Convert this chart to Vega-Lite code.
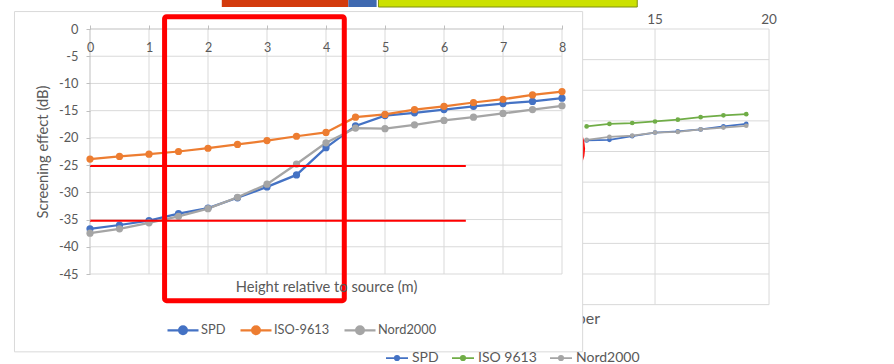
{
  "$schema": "https://vega.github.io/schema/vega-lite/v6.json",
  "width": 472,
  "height": 245,
  "autosize": {"type": "none"},
  "padding": {"left": 90, "top": 29, "right": 332, "bottom": 90},
  "background": "white",
  "config": {
    "font": "Lato",
    "view": {"stroke": null}
  },
  "datasets": {
    "main": [
      {"x": 0, "series": "SPD", "v": -36.7}, {"x": 0, "series": "ISO-9613", "v": -23.9}, {"x": 0, "series": "Nord2000", "v": -37.5},
      {"x": 0.5, "series": "SPD", "v": -36.0}, {"x": 0.5, "series": "ISO-9613", "v": -23.4}, {"x": 0.5, "series": "Nord2000", "v": -36.7},
      {"x": 1, "series": "SPD", "v": -35.2}, {"x": 1, "series": "ISO-9613", "v": -23.0}, {"x": 1, "series": "Nord2000", "v": -35.6},
      {"x": 1.5, "series": "SPD", "v": -33.9}, {"x": 1.5, "series": "ISO-9613", "v": -22.5}, {"x": 1.5, "series": "Nord2000", "v": -34.4},
      {"x": 2, "series": "SPD", "v": -32.9}, {"x": 2, "series": "ISO-9613", "v": -21.9}, {"x": 2, "series": "Nord2000", "v": -33.0},
      {"x": 2.5, "series": "SPD", "v": -31.0}, {"x": 2.5, "series": "ISO-9613", "v": -21.2}, {"x": 2.5, "series": "Nord2000", "v": -30.9},
      {"x": 3, "series": "SPD", "v": -29.0}, {"x": 3, "series": "ISO-9613", "v": -20.5}, {"x": 3, "series": "Nord2000", "v": -28.5},
      {"x": 3.5, "series": "SPD", "v": -26.8}, {"x": 3.5, "series": "ISO-9613", "v": -19.7}, {"x": 3.5, "series": "Nord2000", "v": -24.8},
      {"x": 4, "series": "SPD", "v": -21.8}, {"x": 4, "series": "ISO-9613", "v": -19.0}, {"x": 4, "series": "Nord2000", "v": -20.9},
      {"x": 4.5, "series": "SPD", "v": -17.8}, {"x": 4.5, "series": "ISO-9613", "v": -16.2}, {"x": 4.5, "series": "Nord2000", "v": -18.2},
      {"x": 5, "series": "SPD", "v": -15.9}, {"x": 5, "series": "ISO-9613", "v": -15.7}, {"x": 5, "series": "Nord2000", "v": -18.3},
      {"x": 5.5, "series": "SPD", "v": -15.4}, {"x": 5.5, "series": "ISO-9613", "v": -14.8}, {"x": 5.5, "series": "Nord2000", "v": -17.6},
      {"x": 6, "series": "SPD", "v": -14.8}, {"x": 6, "series": "ISO-9613", "v": -14.2}, {"x": 6, "series": "Nord2000", "v": -16.8},
      {"x": 6.5, "series": "SPD", "v": -14.2}, {"x": 6.5, "series": "ISO-9613", "v": -13.5}, {"x": 6.5, "series": "Nord2000", "v": -16.2},
      {"x": 7, "series": "SPD", "v": -13.7}, {"x": 7, "series": "ISO-9613", "v": -12.9}, {"x": 7, "series": "Nord2000", "v": -15.5},
      {"x": 7.5, "series": "SPD", "v": -13.3}, {"x": 7.5, "series": "ISO-9613", "v": -12.1}, {"x": 7.5, "series": "Nord2000", "v": -14.8},
      {"x": 8, "series": "SPD", "v": -12.7}, {"x": 8, "series": "ISO-9613", "v": -11.5}, {"x": 8, "series": "Nord2000", "v": -14.1}
    ],
    "receivers": [
      {"n": 12, "series": "SPD", "v": -18.2}, {"n": 12, "series": "ISO 9613", "v": -15.9}, {"n": 12, "series": "Nord2000", "v": -18.1},
      {"n": 13, "series": "SPD", "v": -18.1}, {"n": 13, "series": "ISO 9613", "v": -15.5}, {"n": 13, "series": "Nord2000", "v": -17.6},
      {"n": 14, "series": "SPD", "v": -17.5}, {"n": 14, "series": "ISO 9613", "v": -15.35}, {"n": 14, "series": "Nord2000", "v": -17.4},
      {"n": 15, "series": "SPD", "v": -16.9}, {"n": 15, "series": "ISO 9613", "v": -15.1}, {"n": 15, "series": "Nord2000", "v": -16.9},
      {"n": 16, "series": "SPD", "v": -16.7}, {"n": 16, "series": "ISO 9613", "v": -14.8}, {"n": 16, "series": "Nord2000", "v": -16.8},
      {"n": 17, "series": "SPD", "v": -16.4}, {"n": 17, "series": "ISO 9613", "v": -14.4}, {"n": 17, "series": "Nord2000", "v": -16.4},
      {"n": 18, "series": "SPD", "v": -15.9}, {"n": 18, "series": "ISO 9613", "v": -14.1}, {"n": 18, "series": "Nord2000", "v": -16.1},
      {"n": 19, "series": "SPD", "v": -15.5}, {"n": 19, "series": "ISO 9613", "v": -13.9}, {"n": 19, "series": "Nord2000", "v": -15.8}
    ],
    "gridX": [{"x": 0}, {"x": 1}, {"x": 2}, {"x": 3}, {"x": 4}, {"x": 5}, {"x": 6}, {"x": 7}, {"x": 8}],
    "gridY": [{"v": 0}, {"v": -5}, {"v": -10}, {"v": -15}, {"v": -20}, {"v": -25}, {"v": -30}, {"v": -35}, {"v": -40}, {"v": -45}],
    "recGridX": [{"n": 0}, {"n": 5}, {"n": 10}, {"n": 15}, {"n": 20}],
    "strip": [
      {"part": "red", "x0": -4.0, "x1": 1.55},
      {"part": "blue", "x0": 1.55, "x1": 2.79},
      {"part": "yellow", "x0": 2.87, "x1": 14.22}
    ],
    "frame": [{"x0": -1.28, "x1": 8.35, "y0": 3.2, "y1": -59.3}],
    "box": [{"x0": 1.264, "x1": 4.31, "y0": 2.26, "y1": -49.9}],
    "refs": [{"v": -25.15, "x0": 0, "x1": 6.37}, {"v": -35.2, "x0": 0, "x1": 6.37}]
  },
  "layer": [
    {
      "layer": [
        {
          "data": {"name": "strip"},
          "transform": [{"filter": "datum.part === 'red'"}],
          "mark": {"type": "rect", "color": "#D33A0C"},
          "encoding": {
            "x": {"field": "x0", "type": "quantitative", "scale": {"domain": [-9.78, 10.92], "nice": false, "zero": false}, "axis": null},
            "x2": {"field": "x1"},
            "y": {"datum": 6, "type": "quantitative", "scale": {"domain": [-40, 0], "nice": false, "zero": false}, "axis": null},
            "y2": {"datum": 3.59}
          }
        },
        {
          "data": {"name": "strip"},
          "transform": [{"filter": "datum.part === 'blue'"}],
          "mark": {"type": "rect", "color": "#3F69B0"},
          "encoding": {
            "x": {"field": "x0", "type": "quantitative", "scale": {"domain": [-9.78, 10.92], "nice": false, "zero": false}, "axis": null},
            "x2": {"field": "x1"},
            "y": {"datum": 6, "type": "quantitative", "scale": {"domain": [-40, 0], "nice": false, "zero": false}, "axis": null},
            "y2": {"datum": 3.59}
          }
        },
        {
          "data": {"name": "strip"},
          "transform": [{"filter": "datum.part === 'yellow'"}],
          "mark": {"type": "rect", "fill": "#CCE100", "stroke": "#7E8F10", "strokeWidth": 1},
          "encoding": {
            "x": {"field": "x0", "type": "quantitative", "scale": {"domain": [-9.78, 10.92], "nice": false, "zero": false}, "axis": null},
            "x2": {"field": "x1"},
            "y": {"datum": 6, "type": "quantitative", "scale": {"domain": [-40, 0], "nice": false, "zero": false}, "axis": null},
            "y2": {"datum": 3.59}
          }
        },
        {
          "data": {"name": "recGridX"},
          "mark": {"type": "rule", "color": "#d9d9d9", "strokeWidth": 1},
          "encoding": {
            "x": {"field": "n", "type": "quantitative", "scale": {"domain": [-9.78, 10.92], "nice": false, "zero": false}, "axis": null},
            "y": {"datum": 0, "type": "quantitative", "scale": {"domain": [-40, 0], "nice": false, "zero": false}, "axis": null},
            "y2": {"datum": -45}
          }
        },
        {
          "data": {"name": "gridY"},
          "mark": {"type": "rule", "color": "#d9d9d9", "strokeWidth": 1},
          "encoding": {
            "y": {"field": "v", "type": "quantitative", "scale": {"domain": [-40, 0], "nice": false, "zero": false}, "axis": null},
            "x": {"datum": 0, "type": "quantitative", "scale": {"domain": [-9.78, 10.92], "nice": false, "zero": false}, "axis": null},
            "x2": {"datum": 20}
          }
        },
        {
          "data": {"name": "recGridX"},
          "mark": {"type": "text", "fontSize": 13.5, "color": "#595959", "baseline": "middle", "dy": -9.3},
          "encoding": {
            "x": {"field": "n", "type": "quantitative", "scale": {"domain": [-9.78, 10.92], "nice": false, "zero": false}, "axis": null},
            "y": {"datum": 0, "type": "quantitative", "scale": {"domain": [-40, 0], "nice": false, "zero": false}, "axis": null},
            "text": {"field": "n", "type": "quantitative"}
          }
        },
        {
          "data": {"values": [{"label": "Receiver number"}]},
          "mark": {"type": "text", "fontSize": 16, "color": "#595959", "baseline": "middle", "dy": 14},
          "encoding": {
            "x": {"datum": 10, "type": "quantitative", "scale": {"domain": [-9.78, 10.92], "nice": false, "zero": false}, "axis": null},
            "y": {"datum": -45, "type": "quantitative", "scale": {"domain": [-40, 0], "nice": false, "zero": false}, "axis": null},
            "text": {"field": "label"}
          }
        },
        {
          "data": {"name": "receivers"},
          "mark": {"type": "line", "strokeWidth": 1.75},
          "encoding": {
            "x": {"field": "n", "type": "quantitative", "scale": {"domain": [-9.78, 10.92], "nice": false, "zero": false}, "axis": null},
            "y": {"field": "v", "type": "quantitative", "scale": {"domain": [-40, 0], "nice": false, "zero": false}, "axis": null},
            "stroke": {
              "field": "series",
              "type": "nominal",
              "scale": {"domain": ["SPD", "ISO 9613", "Nord2000"], "range": ["#4472C4", "#70AD47", "#A5A5A5"]},
              "legend": {
                "orient": "none",
                "legendX": 295,
                "legendY": 317,
                "direction": "horizontal",
                "title": null,
                "symbolType": "M-1,0H1M-0.2,0A0.2,0.2,0,1,1,0.2,0A0.2,0.2,0,1,1,-0.2,0",
                "symbolSize": 484,
                "symbolStrokeWidth": 1.75,
                "labelFontSize": 14,
                "labelColor": "#595959",
                "labelOffset": 3,
                "columnPadding": 9,
                "encode": {"symbols": {"update": {"fill": {"scale": "stroke", "field": "value"}}}}
              }
            }
          }
        },
        {
          "data": {"name": "receivers"},
          "mark": {"type": "point", "filled": true, "size": 22, "opacity": 1},
          "encoding": {
            "x": {"field": "n", "type": "quantitative", "scale": {"domain": [-9.78, 10.92], "nice": false, "zero": false}, "axis": null},
            "y": {"field": "v", "type": "quantitative", "scale": {"domain": [-40, 0], "nice": false, "zero": false}, "axis": null},
            "fill": {
              "field": "series",
              "type": "nominal",
              "scale": {"domain": ["SPD", "ISO 9613", "Nord2000"], "range": ["#4472C4", "#70AD47", "#A5A5A5"]},
              "legend": null
            }
          }
        },
        {
          "data": {"values": [{"n": 10.3, "v": -19.54}]},
          "mark": {"type": "point", "shape": "circle", "filled": true, "size": 5542, "color": "#FF0000", "opacity": 1},
          "encoding": {
            "x": {"field": "n", "type": "quantitative", "scale": {"domain": [-9.78, 10.92], "nice": false, "zero": false}, "axis": null},
            "y": {"field": "v", "type": "quantitative", "scale": {"domain": [-40, 0], "nice": false, "zero": false}, "axis": null}
          }
        }
      ]
    },
    {
      "data": {"name": "frame"},
      "mark": {"type": "rect", "fill": "white", "stroke": "#d9d9d9", "strokeWidth": 1},
      "encoding": {
        "x": {"field": "x0", "type": "quantitative", "scale": {"domain": [0, 8], "nice": false, "zero": false}, "axis": null},
        "x2": {"field": "x1"},
        "y": {"field": "y0", "type": "quantitative", "scale": {"domain": [-45, 0], "nice": false, "zero": false}, "axis": null},
        "y2": {"field": "y1"}
      }
    },
    {
      "data": {"name": "gridX"},
      "mark": {"type": "rule", "strokeWidth": 1},
      "encoding": {
        "x": {"field": "x", "type": "quantitative", "scale": {"domain": [0, 8], "nice": false, "zero": false}, "axis": null},
        "y": {"datum": -45, "type": "quantitative", "scale": {"domain": [-45, 0], "nice": false, "zero": false}, "axis": null},
        "y2": {"datum": 0},
        "color": {"condition": {"test": "datum.x === 0", "value": "#bfbfbf"}, "value": "#d9d9d9"}
      }
    },
    {
      "data": {"name": "gridY"},
      "mark": {"type": "rule", "strokeWidth": 1},
      "encoding": {
        "y": {"field": "v", "type": "quantitative", "scale": {"domain": [-45, 0], "nice": false, "zero": false}, "axis": null},
        "x": {"datum": 0, "type": "quantitative", "scale": {"domain": [0, 8], "nice": false, "zero": false}, "axis": null},
        "x2": {"datum": 8},
        "color": {"condition": {"test": "datum.v === 0", "value": "#bfbfbf"}, "value": "#d9d9d9"}
      }
    },
    {
      "data": {"name": "main"},
      "mark": {"type": "line", "strokeWidth": 2.25, "point": {"filled": true, "size": 52}},
      "encoding": {
        "x": {
          "field": "x",
          "type": "quantitative",
          "scale": {"domain": [0, 8], "nice": false, "zero": false},
          "axis": {
            "orient": "top",
            "values": [0, 1, 2, 3, 4, 5, 6, 7, 8],
            "grid": false,
            "domain": false,
            "ticks": true,
            "tickSize": 4,
            "tickColor": "#bfbfbf",
            "labelFlush": false,
            "labelPadding": -22.4,
            "labelBaseline": "middle",
            "labelFontSize": 12.5,
            "labelColor": "#595959",
            "labelExpr": "toString(datum.value)",
            "title": "Height relative to source (m)",
            "titleX": 236,
            "titleY": 258,
            "titleBaseline": "middle",
            "titleAlign": "center",
            "titleFontSize": 14.7,
            "titleFontWeight": "normal",
            "titleColor": "#595959",
            "zindex": 2
          }
        },
        "y": {
          "field": "v",
          "type": "quantitative",
          "scale": {"domain": [-45, 0], "nice": false, "zero": false},
          "axis": {
            "orient": "left",
            "values": [0, -5, -10, -15, -20, -25, -30, -35, -40, -45],
            "grid": false,
            "domain": false,
            "ticks": true,
            "tickSize": 4,
            "tickColor": "#bfbfbf",
            "labelFlush": false,
            "labelPadding": 8,
            "labelFontSize": 12.8,
            "labelColor": "#595959",
            "labelExpr": "toString(datum.value)",
            "title": "Screening effect (dB)",
            "titleX": -47,
            "titleY": 122.5,
            "titleAngle": -90,
            "titleBaseline": "middle",
            "titleAlign": "center",
            "titleFontSize": 14.7,
            "titleFontWeight": "normal",
            "titleColor": "#595959",
            "zindex": 2
          }
        },
        "color": {
          "field": "series",
          "type": "nominal",
          "scale": {"domain": ["SPD", "ISO-9613", "Nord2000"], "range": ["#4472C4", "#ED7D31", "#A5A5A5"]},
          "legend": {
            "orient": "none",
            "legendX": 76,
            "legendY": 284,
            "direction": "horizontal",
            "title": null,
            "symbolType": "M-1,0H1M-0.25,0A0.25,0.25,0,1,1,0.25,0A0.25,0.25,0,1,1,-0.25,0",
            "symbolSize": 961,
            "symbolStrokeWidth": 2.25,
            "labelFontSize": 12.8,
            "labelColor": "#595959",
            "labelOffset": 1,
            "columnPadding": 10,
            "encode": {"symbols": {"update": {"fill": {"scale": "color", "field": "value"}, "stroke": {"scale": "color", "field": "value"}, "opacity": {"value": 1}}}}
          }
        }
      }
    },
    {
      "data": {"name": "refs"},
      "mark": {"type": "rule", "color": "#FF0000", "strokeWidth": 2},
      "encoding": {
        "y": {"field": "v", "type": "quantitative", "scale": {"domain": [-45, 0], "nice": false, "zero": false}, "axis": null},
        "x": {"field": "x0", "type": "quantitative", "scale": {"domain": [0, 8], "nice": false, "zero": false}, "axis": null},
        "x2": {"field": "x1"}
      }
    },
    {
      "data": {"name": "box"},
      "mark": {"type": "rect", "fill": "transparent", "stroke": "#FF0000", "strokeWidth": 5, "cornerRadius": 2},
      "encoding": {
        "x": {"field": "x0", "type": "quantitative", "scale": {"domain": [0, 8], "nice": false, "zero": false}, "axis": null},
        "x2": {"field": "x1"},
        "y": {"field": "y0", "type": "quantitative", "scale": {"domain": [-45, 0], "nice": false, "zero": false}, "axis": null},
        "y2": {"field": "y1"}
      }
    }
  ],
  "resolve": {"scale": {"x": "independent", "y": "independent"}}
}
